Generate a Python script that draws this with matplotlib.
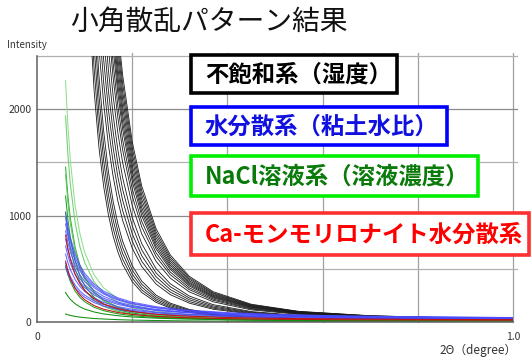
import matplotlib
matplotlib.use("Agg")
import matplotlib.pyplot as plt
from matplotlib.patches import Rectangle

plt.rcParams['font.family'] = ['Noto Sans CJK JP', 'DejaVu Sans']

# ---- scattering angle grids (2θ, degree) ----
x_black = [0.10, 0.11, 0.12, 0.13, 0.14, 0.15, 0.16, 0.17, 0.18, 0.20,
           0.22, 0.25, 0.28, 0.32, 0.37, 0.45, 0.55, 0.70, 0.85, 1.00]
x_color = [0.060, 0.065, 0.070, 0.080, 0.090, 0.100, 0.120, 0.140, 0.170,
           0.200, 0.250, 0.300, 0.400, 0.500, 0.650, 0.800, 1.000]

# ---- 不飽和系（湿度）: intensity on x_black ----
unsaturated = [
    [4096, 2940, 2174, 1647, 1276, 1006, 806, 657, 541, 380, 278, 185, 131, 90, 62, 41, 30, 24, 22, 21],
    [4482, 3216, 2378, 1801, 1394, 1099, 881, 717, 590, 414, 302, 201, 141, 96, 66, 43, 31, 25, 22, 21],
    [4889, 3508, 2593, 1963, 1520, 1198, 959, 781, 642, 450, 328, 217, 153, 103, 70, 45, 32, 25, 23, 22],
    [5326, 3821, 2824, 2138, 1654, 1304, 1044, 849, 698, 489, 356, 235, 165, 111, 75, 47, 34, 26, 23, 22],
    [5787, 4151, 3068, 2322, 1797, 1415, 1133, 921, 757, 530, 385, 253, 177, 118, 79, 50, 35, 26, 23, 22],
    [5799, 4320, 3304, 2582, 2056, 1664, 1366, 1135, 954, 694, 522, 357, 257, 177, 120, 75, 49, 34, 28, 25],
    [6365, 4742, 3626, 2833, 2256, 1825, 1498, 1245, 1046, 760, 571, 390, 281, 192, 130, 80, 52, 35, 28, 25],
    [6970, 5192, 3970, 3101, 2469, 1997, 1638, 1361, 1143, 830, 623, 426, 305, 209, 140, 86, 55, 37, 29, 26],
    [7599, 5660, 4327, 3380, 2690, 2176, 1785, 1483, 1245, 904, 678, 462, 331, 226, 151, 92, 58, 38, 30, 26],
    [8279, 6166, 4714, 3682, 2930, 2369, 1943, 1614, 1355, 983, 737, 502, 359, 244, 163, 98, 62, 40, 31, 27],
    [8630, 6489, 5003, 3939, 3157, 2571, 2122, 1772, 1497, 1096, 828, 571, 412, 283, 190, 114, 72, 45, 34, 29],
    [9330, 7015, 5408, 4258, 3413, 2779, 2293, 1915, 1617, 1184, 894, 616, 444, 304, 204, 122, 76, 47, 35, 29],
    [9880, 7428, 5726, 4508, 3613, 2942, 2427, 2027, 1711, 1253, 946, 651, 469, 321, 215, 128, 79, 49, 36, 30],
    [10450, 7856, 6056, 4768, 3821, 3110, 2566, 2143, 1809, 1324, 999, 688, 495, 338, 226, 134, 83, 50, 37, 30],
    [10850, 8157, 6287, 4950, 3966, 3229, 2664, 2224, 1877, 1374, 1037, 713, 513, 351, 234, 139, 85, 52, 38, 31],
    [11250, 8457, 6519, 5132, 4112, 3347, 2761, 2305, 1946, 1424, 1074, 739, 532, 363, 242, 143, 88, 53, 38, 31],
    [11660, 8765, 6756, 5318, 4262, 3469, 2861, 2389, 2016, 1475, 1113, 765, 550, 375, 250, 148, 90, 54, 39, 32],
    [12090, 9088, 7005, 5514, 4418, 3596, 2966, 2476, 2090, 1529, 1153, 792, 570, 388, 258, 152, 93, 55, 40, 32],
    [12520, 9411, 7254, 5710, 4575, 3724, 3071, 2564, 2164, 1583, 1194, 820, 589, 402, 267, 157, 95, 56, 40, 33],
    [12960, 9742, 7508, 5910, 4735, 3854, 3179, 2653, 2239, 1638, 1235, 848, 609, 415, 275, 162, 98, 58, 41, 33],
    [13420, 10087, 7775, 6120, 4903, 3990, 3291, 2747, 2318, 1695, 1278, 878, 630, 429, 285, 167, 100, 59, 42, 33],
]

# ---- NaCl溶液系（溶液濃度）: intensity on x_color ----
nacl = [
    [2268, 1836, 1520, 1097, 833, 657, 442, 321, 218, 159, 105, 76, 47, 34, 24, 19, 15],
    [1936, 1567, 1297, 936, 710, 560, 377, 273, 185, 135, 89, 64, 40, 28, 20, 15, 12],
    [1456, 1179, 976, 705, 535, 422, 284, 207, 140, 103, 68, 50, 31, 23, 16, 13, 11],
    [1385, 1121, 928, 670, 509, 401, 270, 196, 133, 97, 64, 47, 29, 21, 15, 12, 9],
    [1185, 960, 794, 574, 436, 344, 232, 168, 114, 84, 56, 41, 26, 19, 13, 11, 9],
    [1034, 837, 693, 500, 380, 300, 202, 147, 100, 73, 48, 35, 22, 16, 11, 9, 7],
    [532, 446, 382, 291, 232, 191, 138, 106, 77, 59, 42, 33, 22, 17, 12, 10, 8],
    [278, 242, 213, 172, 143, 122, 94, 76, 59, 47, 36, 29, 21, 16, 12, 10, 8],
    [75, 68, 62, 53, 46, 41, 33, 28, 22, 18, 14, 11, 8, 6, 5, 4, 3],
]

# ---- 水分散系（粘土水比）: intensity on x_color ----
water = [
    [1030, 897, 793, 641, 536, 459, 356, 290, 227, 186, 144, 118, 88, 71, 57, 49, 42],
    [978, 851, 752, 608, 509, 436, 338, 275, 215, 176, 136, 111, 82, 67, 53, 45, 39],
    [922, 803, 710, 576, 482, 414, 322, 263, 206, 170, 132, 109, 82, 68, 55, 47, 41],
    [856, 745, 659, 533, 445, 381, 296, 241, 188, 154, 119, 97, 72, 59, 47, 40, 34],
    [780, 680, 601, 487, 408, 351, 273, 223, 176, 145, 113, 94, 71, 59, 48, 42, 36],
    [714, 623, 552, 448, 377, 324, 254, 209, 165, 138, 109, 91, 70, 59, 49, 44, 39],
    [638, 556, 492, 399, 335, 288, 224, 184, 145, 120, 94, 78, 60, 49, 41, 36, 31],
    [552, 482, 427, 348, 293, 253, 198, 164, 130, 109, 87, 73, 58, 49, 41, 37, 33],
    [515, 449, 398, 323, 271, 233, 182, 149, 117, 97, 76, 63, 49, 40, 33, 29, 26],
]

# ---- Ca-モンモリロナイト水分散系: intensity on x_color ----
ca_mont = [
    [815, 685, 587, 450, 361, 298, 217, 169, 125, 99, 73, 58, 42, 34, 28, 24, 22],
    [572, 481, 413, 317, 254, 210, 154, 120, 89, 71, 53, 42, 31, 26, 21, 19, 17],
]

y_ticks = [0, 1000, 2000]
x_ticks = [0, 1.0]
x_tick_labels = ['0', '1.0']

W, H = 532, 360
fig = plt.figure(figsize=(W / 100, H / 100), dpi=100)
ax = fig.add_axes([37 / W, 38 / H, 476 / W, 266 / H])
ax.set_xlim(0, 1.0)
ax.set_ylim(0, 2500)

# grid (drawn slightly past the frame)
for gx in [0.2, 0.4, 0.6, 0.8, 1.0]:
    ax.plot([gx, gx], [0, 2530], color='#a0a0a0', lw=0.9, clip_on=False, zorder=1)
for gy in [500, 1000, 1500, 2000, 2500]:
    c = '#8a8a8a' if gy in (1000, 2000) else '#b0b0b0'
    ax.plot([0, 1.008], [gy, gy], color=c, lw=0.9, clip_on=False, zorder=1)

for ys in unsaturated:
    ax.plot(x_black, ys, color='#1a1a1a', lw=0.6, zorder=2)
green_cols = ['#8fe08f', '#6fd06f', '#30b030', '#60c860', '#20a020',
              '#40b840', '#20a020', '#109010', '#109010']
for ys, c in zip(nacl, green_cols):
    ax.plot(x_color, ys, color=c, lw=0.75, zorder=3)
for ys in water:
    ax.plot(x_color, ys, color='#4a4aff', lw=0.75, alpha=0.85, zorder=4)
for ys in ca_mont:
    ax.plot(x_color, ys, color='#c41010', lw=0.75, zorder=5)

for side in ['top', 'right']:
    ax.spines[side].set_visible(False)
for side in ['left', 'bottom']:
    ax.spines[side].set_color('#606060')
    ax.spines[side].set_linewidth(1.1)
    ax.spines[side].set_zorder(6)

ax.set_yticks(y_ticks)
ax.set_yticklabels([str(v) for v in y_ticks])
ax.set_xticks(x_ticks)
ax.set_xticklabels(x_tick_labels)
ax.tick_params(axis='both', length=0, labelsize=7.5, colors='#333333')
ax.tick_params(axis='y', pad=4)
ax.tick_params(axis='x', pad=7)

fig.text(7 / W, 1 - 45 / H, 'Intensity', fontsize=7, color='#333333',
         ha='left', va='center')
fig.text(517 / W, 1 - 350 / H, '2Θ（degree）', fontsize=8.5, color='#333333',
         ha='right', va='center')
fig.text(70 / W, 1 - 22 / H, '小角散乱パターン結果', fontsize=20,
         color='#111111', ha='left', va='center')

# labelled boxes: (left, top, right, bottom) in pixels
boxes = [
    ((191, 55, 397, 93), '不飽和系（湿度）', '#000000', '#000000'),
    ((191, 107, 447, 145), '水分散系（粘土水比）', '#0000ff', '#1010e0'),
    ((191, 156, 478, 196), 'NaCl溶液系（溶液濃度）', '#00ee00', '#0a7a0a'),
    ((191, 213, 529, 255), 'Ca-モンモリロナイト水分散系', '#ff3030', '#ff0000'),
]
for (l, t, r, b), label, edge, tc in boxes:
    fig.add_artist(Rectangle((l / W, 1 - b / H), (r - l) / W, (b - t) / H,
                             transform=fig.transFigure, facecolor='white',
                             edgecolor=edge, lw=2.6, zorder=10))
    fig.text((l + 14) / W, 1 - ((t + b) / 2 + 1) / H, label, fontsize=16.8,
             fontweight='bold', color=tc, ha='left', va='center', zorder=11)

fig.savefig('out.png', dpi=100)
